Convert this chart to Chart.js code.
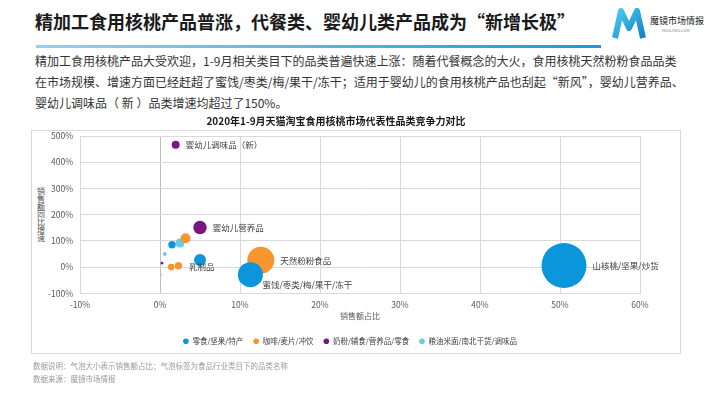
<!DOCTYPE html>
<html lang="zh">
<head>
  <meta charset="UTF-8">
  <title>2020年1-9月天猫淘宝食用核桃市场代表性品类竞争力对比</title>
  <script src="https://cdn.jsdelivr.net/npm/chart.js"></script>
  <style>
    body {
      margin: 0;
      width: 710px;
      height: 399px;
      background: #fff;
      font-family: "Noto Sans CJK SC", sans-serif;
      position: relative;
      overflow: hidden;
    }
    .title {
      position: absolute;
      left: 35px;
      top: 8px;
      font-size: 18px;
      font-weight: bold;
      color: #1a1a1a;
      white-space: nowrap;
    }
    .rule {
      position: absolute;
      left: 36px;
      top: 45px;
      width: 565px;
      height: 3px;
      background: linear-gradient(to right, #8fd3f0, #1e98d8);
    }
    .lead {
      position: absolute;
      left: 35px;
      top: 50px;
      font-size: 12px;
      line-height: 21px;
      color: #333;
      white-space: nowrap;
    }
    .logo { position: absolute; left: 612px; top: 8px; }
    .logo-cn { position: absolute; left: 650px; top: 14px; font-size: 9px; color: #222; white-space: nowrap; }
    .logo-en { position: absolute; left: 662px; top: 27px; font-size: 4px; color: #888; white-space: nowrap; }
    .box {
      position: absolute;
      left: 31px;
      top: 130px;
      width: 648px;
      height: 222px;
      border: 1px solid #d9d9d9;
    }
    .ytitle {
      position: absolute;
      left: 37px;
      top: 187px;
      width: 9px;
      word-break: break-all;
      font-size: 8px;
      line-height: 7.8px;
      color: #505050;
    }
    #chart { position: absolute; left: 32px; top: 112px; }
    .note {
      position: absolute;
      left: 33px;
      font-size: 7.5px;
      color: #999;
      white-space: nowrap;
    }
  </style>
</head>
<body>
  <div class="title">精加工食用核桃产品普涨，代餐类、婴幼儿类产品成为“新增长极”</div>
  <svg class="logo" width="34" height="32" viewBox="0 0 34 32">
    <defs>
      <linearGradient id="mg" x1="0" y1="0" x2="1" y2="1">
        <stop offset="0" stop-color="#4cc9f0"/>
        <stop offset="1" stop-color="#1182c9"/>
      </linearGradient>
    </defs>
    <path d="M3 30 L9 3 L17 20 L25 3 L31 30" fill="none" stroke="url(#mg)" stroke-width="6" stroke-linejoin="round"/>
  </svg>
  <div class="logo-cn">魔镜市场情报</div>
  <div class="logo-en">MOOJING.COM</div>
  <div class="rule"></div>
  <div class="lead">精加工食用核桃产品大受欢迎，1-9月相关类目下的品类普遍快速上涨：随着代餐概念的大火，食用核桃天然粉粉食品品类<br>在市场规模、增速方面已经赶超了蜜饯/枣类/梅/果干/冻干；适用于婴幼儿的食用核桃产品也刮起“新风”，婴幼儿营养品、<br>婴幼儿调味品（ 新 ）品类增速均超过了150%。</div>

  <div class="box"></div>
  <div class="ytitle">销售额同比增速</div>
  <canvas id="chart" width="647" height="250"></canvas>

  <div class="note" style="top:360px">数据说明：气泡大小表示销售额占比；气泡标签为食品行业类目下的品类名称</div>
  <div class="note" style="top:373px">数据来源：魔镜市场情报</div>

  <script>
    // 系列名称
    const seriesNames = ['零食/坚果/特产', '咖啡/麦片/冲饮', '奶粉/辅食/营养品/零食', '粮油米面/南北干货/调味品'];

    // 零食/坚果/特产
    const snackShare = [50.5, 11.3, 5.0, 1.5];
    const snackGrowth = [6, -29, 27, 85];
    const snackSize = [49.4, 15.3, 3.5, 1.34];
    const snackLabels = ['山核桃/坚果/炒货', '蜜饯/枣类/梅/果干/冻干', '乳制品', ''];

    // 咖啡/麦片/冲饮
    const drinkShare = [12.6, 3.2, 1.4, 2.3];
    const drinkGrowth = [26, 110, 0, 5];
    const drinkSize = [17.8, 2.4, 1.06, 1.34];
    const drinkLabels = ['天然粉粉食品', '', '', ''];

    // 奶粉/辅食/营养品/零食
    const babyShare = [1.96, 5.0, 0.25];
    const babyGrowth = [467, 151, 15];
    const babySize = [1.56, 4.4, 0.17];
    const babyLabels = ['婴幼儿调味品（新）', '婴幼儿营养品', ''];

    // 粮油米面/南北干货/调味品
    const grainShare = [2.5, 0.6, 0.1];
    const grainGrowth = [92, 50, -29];
    const grainSize = [2.0, 0.39, 0.1];
    const grainLabels = ['', '', ''];

    const colors = ['#0b96db', '#f7962f', '#7a1682', '#6ccbe4'];

    function points(xs, ys, sizes) {
      return xs.map((x, i) => ({ x: x, y: ys[i], r: 3.2 * Math.sqrt(sizes[i]) }));
    }

    // 标签相对气泡中心的偏移（默认放在右侧）
    const labelShift = { '蜜饯/枣类/梅/果干/冻干': [12, 10], '乳制品': [-11, 7] };

    const bubbleLabels = {
      id: 'bubbleLabels',
      afterLayout(chart) {
        // 图例居中于外框
        chart.legend.left += 14;
        chart.legend.right += 14;
      },
      afterDatasetsDraw(chart) {
        const ctx = chart.ctx;
        ctx.save();
        ctx.font = '8.5px "Noto Sans CJK SC"';
        ctx.fillStyle = '#404040';
        ctx.textBaseline = 'middle';
        chart.data.datasets.forEach((ds, i) => {
          chart.getDatasetMeta(i).data.forEach((el, j) => {
            const text = ds.names[j];
            if (!text) return;
            const off = labelShift[text] || [el.options.radius + 6, 0];
            ctx.fillText(text, el.x + off[0], el.y + off[1]);
          });
        });
        ctx.restore();
      }
    };

    const tickFont = { family: '"Noto Sans CJK SC"', size: 8.5 };

    new Chart(document.getElementById('chart'), {
      type: 'bubble',
      data: {
        datasets: [
          { label: seriesNames[0], data: points(snackShare, snackGrowth, snackSize), names: snackLabels, backgroundColor: colors[0] },
          { label: seriesNames[1], data: points(drinkShare, drinkGrowth, drinkSize), names: drinkLabels, backgroundColor: colors[1] },
          { label: seriesNames[2], data: points(babyShare, babyGrowth, babySize), names: babyLabels, backgroundColor: colors[2] },
          { label: seriesNames[3], data: points(grainShare, grainGrowth, grainSize), names: grainLabels, backgroundColor: colors[3] }
        ]
      },
      options: {
        responsive: false,
        animation: false,
        layout: { padding: { left: 0, right: 39, top: 0, bottom: 7 } },
        elements: { point: { borderWidth: 0, hoverBorderWidth: 0 } },
        scales: {
          x: {
            type: 'linear',
            min: -10,
            max: 60,
            ticks: { stepSize: 10, padding: 6, color: '#595959', font: tickFont, callback: v => v + '%' },
            grid: { drawTicks: false, color: c => (c.tick && c.tick.value === 0 ? '#bfbfbf' : '#d9d9d9') },
            border: { color: '#d9d9d9' },
            title: {
              display: true,
              text: '销售额占比',
              color: '#595959',
              font: { family: '"Noto Sans CJK SC"', size: 8, lineHeight: 1 },
              padding: { top: -4, bottom: 8 }
            }
          },
          y: {
            min: -100,
            max: 500,
            ticks: { stepSize: 100, padding: 7, color: '#595959', font: tickFont, callback: v => v + '%' },
            grid: { drawTicks: false, color: '#d9d9d9' },
            border: { color: '#d9d9d9' },
            afterFit: s => { s.width = 48; }
          }
        },
        plugins: {
          title: {
            display: true,
            text: '2020年1-9月天猫淘宝食用核桃市场代表性品类竞争力对比',
            color: '#1a1a1a',
            font: { family: '"Noto Sans CJK SC"', size: 10, weight: 'bold' },
            padding: { top: 3, bottom: 9 }
          },
          legend: {
            position: 'bottom',
            labels: {
              usePointStyle: true,
              pointStyle: 'circle',
              boxHeight: 4,
              pointStyleWidth: 5.6,
              padding: 10,
              color: '#404040',
              font: { family: '"Noto Sans CJK SC"', size: 7.5 }
            }
          },
          tooltip: { enabled: false }
        }
      },
      plugins: [bubbleLabels]
    });
  </script>
</body>
</html>
